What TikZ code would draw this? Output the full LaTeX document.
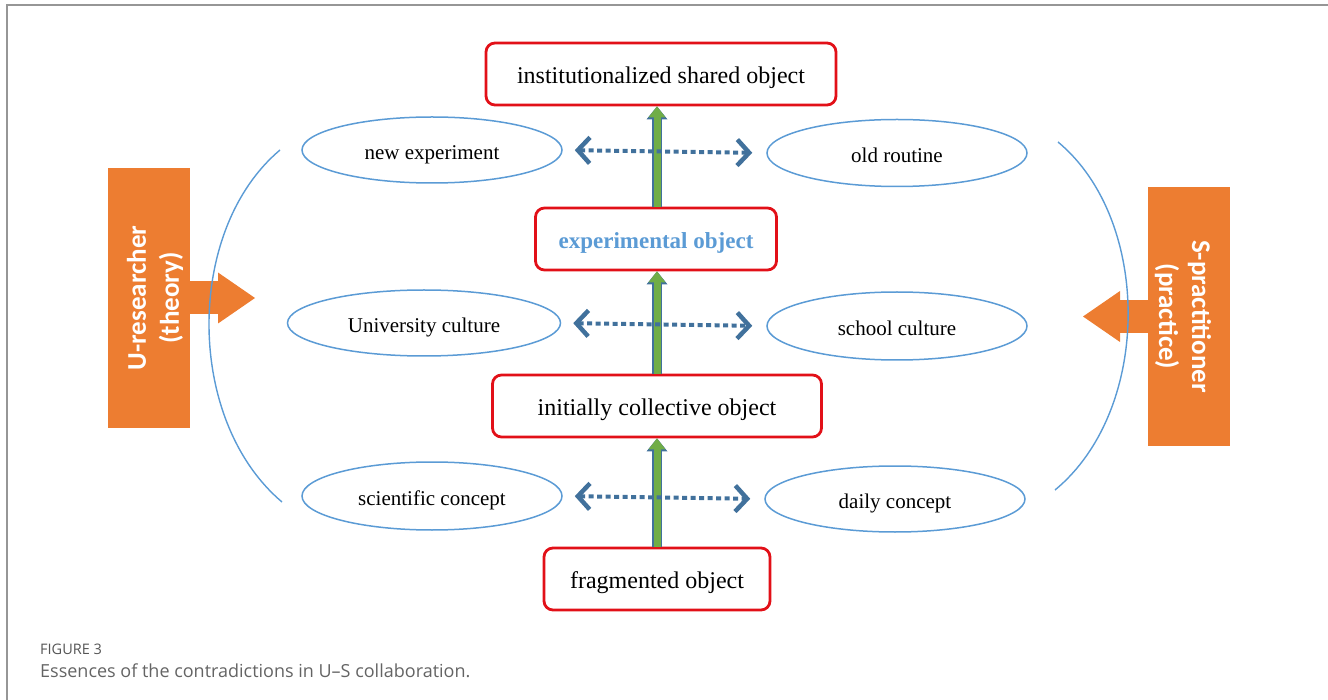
\documentclass[tikz,border=0pt]{standalone}
\usepackage{fontspec}
\setmainfont{Liberation Serif}
\newfontfamily\rolefont{Carlito}
\newfontfamily\capfont{Open Sans}
\usepackage{tikz}
\usetikzlibrary{calc,shapes,arrows.meta,positioning}
\definecolor{objred}{RGB}{226,16,24}
\definecolor{ellblue}{RGB}{91,155,213}
\definecolor{dotblue}{RGB}{65,113,156}
\definecolor{stemgreen}{RGB}{112,173,71}
\definecolor{roleorange}{RGB}{237,125,49}
\definecolor{capgrey}{RGB}{100,100,100}
\definecolor{framegrey}{RGB}{150,150,150}
\tikzstyle{object}=[draw=objred,line width=2.8pt,rounded corners=9pt,fill=white,minimum height=62pt,inner sep=0pt,text height=23pt,text depth=4pt,font=\fontsize{24}{28}\selectfont]
\tikzstyle{culture}=[ellipse,draw=ellblue,line width=1.5pt,minimum width=260pt,minimum height=66pt,inner sep=0pt,text height=23pt,text depth=4pt,font=\fontsize{21}{25}\selectfont]
\tikzstyle{role}=[fill=roleorange,text=white,minimum width=260pt,minimum height=82pt,align=center,text height=64pt,font=\rolefont\bfseries\fontsize{27}{33}\selectfont]
\tikzstyle{contra}=[dotblue,line width=4pt,dash pattern=on 5pt off 3.5pt,{Straight Barb[length=12pt,width=26pt,line width=4.5pt]}-{Straight Barb[length=12pt,width=26pt,line width=4.5pt]},shorten <=12pt,shorten >=14pt]
\tikzstyle{develop}=[stemgreen,line width=7pt,-{Triangle[length=11pt,width=17pt,line width=0pt]},preaction={draw=dotblue,line width=9.5pt,-{Triangle[length=13pt,width=21pt,line width=0pt]}}]
\tikzstyle{push}=[roleorange,line width=33pt,-{Triangle[length=37pt,width=51pt,line width=0pt]}]

\begin{document}
\begin{tikzpicture}[x=1pt,y=-1pt]
        \useasboundingbox (0,0) rectangle (1328,700);
        \draw[framegrey,line width=2pt] (6.5,700) -- (6.5,5.5) -- (1328,5.5);
        \node[object,minimum width=350pt] (inst) at (661,74) {institutionalized shared object};
        \node[object,minimum width=241pt,text=ellblue,font=\bfseries\fontsize{23}{27}\selectfont] (expo) at (656,239) {experimental object};
        \node[object,minimum width=329pt] (init) at (657,406) {initially collective object};
        \node[object,minimum width=226pt] (frag) at (657,579) {fragmented object};
        \node[culture] (newexp) at (432,150) {new experiment};
        \node[culture,minimum height=67pt] (oldrout) at (897,153) {old routine};
        \node[culture,minimum width=273pt] (unicul) at (424,323) {University culture};
        \node[culture,minimum height=68pt] (schcul) at (897,326) {school culture};
        \node[culture,minimum height=68pt] (scicon) at (432,496) {scientific concept};
        \node[culture] (daicon) at (895,499) {daily concept};
        \node[role,rotate=90] (ures) at (149,298) {U-researcher\\(theory)};
        \node[role,rotate=-90,minimum width=259pt] (spra) at (1189,316.5) {S-practitioner\\(practice)};
        \coordinate (utip) at (255,298);
        \coordinate (stip) at (1083,316.5);
        \draw[develop] (frag.north) -- (frag.north |- init.south);
        \draw[develop] (frag.north |- init.north) -- (frag.north |- expo.south);
        \draw[develop] (frag.north |- expo.north) -- (frag.north |- inst.south);
        \draw[contra] (newexp.east) -- (oldrout.west);
        \draw[contra] (unicul.east) -- (schcul.west);
        \draw[contra] (scicon.east) -- (daicon.west);
        \draw[push] (ures.south) -- (utip);
        \draw[push] (spra.south) -- (stip);
        \draw[ellblue,line width=1.4pt] (280,150) .. controls (185,230) and (185,420) .. (282,502);
        \draw[ellblue,line width=1.4pt] (1058,142) .. controls (1152,220) and (1152,410) .. (1055,490);
        \node[anchor=base west,inner sep=0pt,text=capgrey!85!black,font=\capfont\fontsize{14.5}{17}\selectfont] (figlabel) at (40,654) {FIGURE 3};
        \node[anchor=base west,inner sep=0pt,text=capgrey,font=\capfont\fontsize{18}{21}\selectfont] (figcap) at (40,677) {Essences of the contradictions in U–S collaboration.};
\end{tikzpicture}
\end{document}
